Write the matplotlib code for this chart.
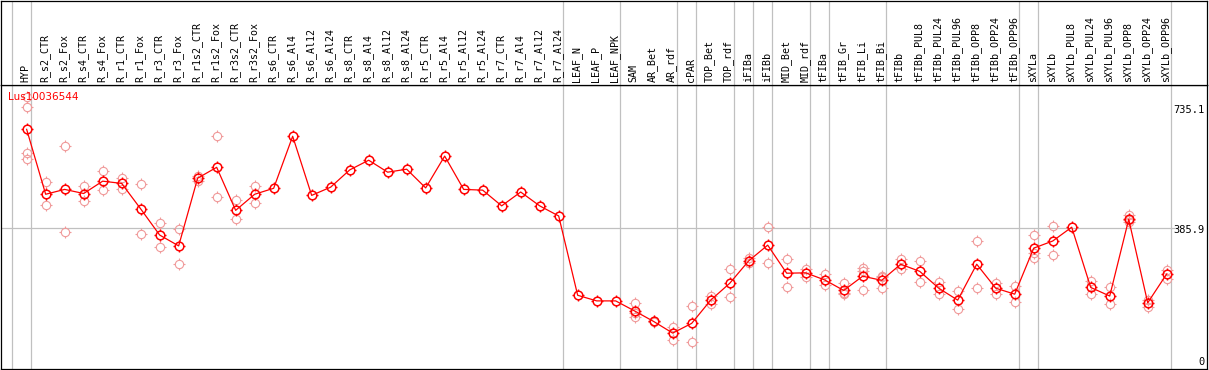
import matplotlib
matplotlib.use('Agg')
import matplotlib.pyplot as plt
from matplotlib.path import Path
from matplotlib.transforms import blended_transform_factory

# Du lieu
gene = 'Lus10036544'
labels = ['HYP', 'R_s2_CTR', 'R_s2_Fox', 'R_s4_CTR', 'R_s4_Fox', 'R_r1_CTR', 'R_r1_Fox',
          'R_r3_CTR', 'R_r3_Fox', 'R_r1s2_CTR', 'R_r1s2_Fox', 'R_r3s2_CTR', 'R_r3s2_Fox',
          'R_s6_CTR', 'R_s6_Al4', 'R_s6_Al12', 'R_s6_Al24', 'R_s8_CTR', 'R_s8_Al4',
          'R_s8_Al12', 'R_s8_Al24', 'R_r5_CTR', 'R_r5_Al4', 'R_r5_Al12', 'R_r5_Al24',
          'R_r7_CTR', 'R_r7_Al4', 'R_r7_Al12', 'R_r7_Al24', 'LEAF_N', 'LEAF_P', 'LEAF_NPK',
          'SAM', 'AR_Bet', 'AR_rdf', 'cPAR', 'TOP_Bet', 'TOP_rdf', 'iFIBa', 'iFIBb',
          'MID_Bet', 'MID_rdf', 'tFIBa', 'tFIB_Gr', 'tFIB_Li', 'tFIB_Bi', 'tFIBb',
          'tFIBb_PUL8', 'tFIBb_PUL24', 'tFIBb_PUL96', 'tFIBb_OPP8', 'tFIBb_OPP24',
          'tFIBb_OPP96', 'sXYLa', 'sXYLb', 'sXYLb_PUL8', 'sXYLb_PUL24', 'sXYLb_PUL96',
          'sXYLb_OPP8', 'sXYLb_OPP24', 'sXYLb_OPP96']
group_sizes = [1, 28, 3, 3, 1, 2, 1, 1, 2, 1, 3, 7, 1, 7]

means = [649.5, 476, 489, 478, 511, 505, 437, 367, 338, 519, 548, 433, 476,
         492, 631, 473, 495, 541, 567, 535, 543, 493, 578, 489, 487, 445, 482, 445, 418,
         206, 191, 191, 164, 136, 105, 131, 193, 238, 298, 340, 265, 266,
         247, 219, 257, 246, 289, 270, 225, 193, 289, 225, 209,
         332, 351, 388, 227, 204, 409, 186, 263]
reps = [[735.1, 708, 586, 570], [508, 446], [605, 374], [499, 458], [538, 487],
        [520, 489], [503, 369], [398, 334], [383, 290], [525, 512], [631, 468],
        [460, 409], [497, 452],
        [], [], [], [], [], [], [], [], [], [], [], [], [], [], [], [], [], [], [],
        [185, 158, 149], [138, 135], [122, 87], [177, 82], [204, 183], [276, 201],
        [305, 293], [388, 292], [302, 229], [276, 254], [263, 234], [238, 211, 209],
        [278, 271, 219], [256, 257, 226], [302, 276], [298, 241], [242, 209],
        [218, 169], [351, 225], [240, 210], [230, 189], [367, 318, 305], [391, 314],
        [], [245, 210], [227, 183], [421, 406, 401], [193, 174], [274, 249]]
ytick_vals = [735.1, 385.9, 0]

# 4 gach nho quanh vong tron
mv = Path.MOVETO
ml = Path.LINETO
tick_mk = Path([[0, 1], [0, 1.45], [0, -1], [0, -1.45], [1, 0], [1.45, 0], [-1, 0], [-1.45, 0]],
               [mv, ml, mv, ml, mv, ml, mv, ml])

W, H = 1209, 370
fig = plt.figure(figsize=(W / 100, H / 100), dpi=100)
ax = fig.add_axes([1 / W, 1 / H, 1206 / W, 284 / H])
hdr = fig.add_axes([1 / W, 285 / H, 1206 / W, 84.5 / H])

xlim = (-1.35, 62.12)
for a in (ax, hdr):
    a.set_xlim(*xlim)
    a.set_xticks([])
    a.set_yticks([])
    for s in a.spines.values():
        s.set_linewidth(0.9)
        s.set_color('black')
hdr.set_ylim(0, 1)
ax.set_ylim(9, 768)

# duong phan nhom
pos = -1
seps = [pos]
for g in group_sizes:
    pos += g
    seps.append(pos)
for s in seps:
    ax.axvline(s + 0.21, color='#c0c0c0', lw=0.9, zorder=0)
    hdr.axvline(s + 0.21, color='#c0c0c0', lw=0.9, zorder=0)

ax.hlines(385.9, xlim[0], 60.6, color='#c0c0c0', lw=0.9, zorder=0)

# nhan cot
for i, lab in enumerate(labels):
    hdr.text(i - 0.05, 0.03, lab, rotation=90, ha='center', va='bottom',
             fontsize=7.2, family='DejaVu Sans Mono', color='black')

x = list(range(len(labels)))
rx, ry = [], []
for i, r in enumerate(reps):
    for v in r:
        rx.append(i)
        ry.append(v)
pink = '#f09a9a'
ax.plot(rx, ry, ls='none', marker='o', ms=6, mfc='none', mec=pink, mew=0.8, zorder=2)
ax.plot(rx, ry, ls='none', marker=tick_mk, ms=8.2, mec=pink, mew=0.8, zorder=2)
ax.plot(x, means, color='red', lw=0.9, zorder=3)
ax.plot(x, means, ls='none', marker='o', ms=6.2, mfc='none', mec='red', mew=1.1, zorder=4)
ax.plot(x, means, ls='none', marker=tick_mk, ms=8.4, mec='red', mew=1.0, zorder=4)

ax.annotate(gene, xy=(0, 1), xycoords='axes fraction', xytext=(7, -12),
            textcoords='offset pixels', color='red', fontsize=7.5, va='center', ha='left', zorder=5)

tr = blended_transform_factory(ax.transAxes, ax.transData)
offs = [-13, -2, 10]
for v, o in zip(ytick_vals, offs):
    ax.annotate(f'{v:g}', xy=(1, v), xycoords=tr, xytext=(-2, o), textcoords='offset pixels',
                ha='right', va='center', fontsize=7.5, family='DejaVu Sans Mono',
                annotation_clip=False)

fig.savefig('out.png', dpi=100)
